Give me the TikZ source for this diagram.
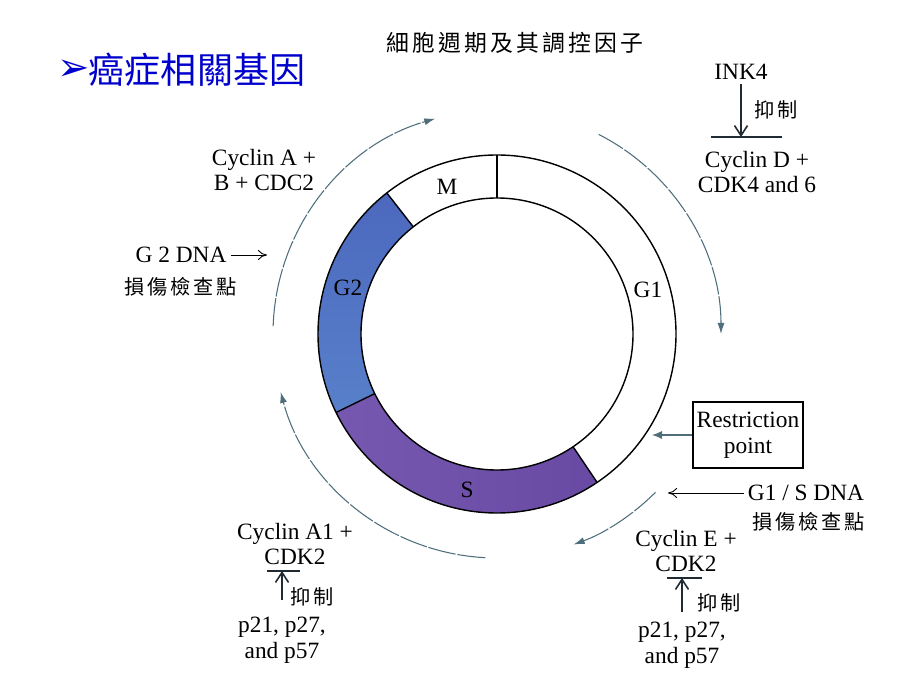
\documentclass[tikz,border=0pt]{standalone}
\usepackage{fontspec}
\setmainfont{Liberation Serif}
\newfontfamily\cjk{Noto Sans CJK TC}
\newfontfamily\cjkwide[LetterSpace=14]{Noto Sans CJK TC}
\newfontfamily\dingfont{DejaVu Sans}
\usetikzlibrary{arrows.meta}
\definecolor{tink}{HTML}{1F2A33}
\definecolor{tarc}{HTML}{4E6E7C}
\definecolor{tblue}{RGB}{0,0,204}
\definecolor{gtwo}{RGB}{76,104,190}
\definecolor{gtwolight}{RGB}{128,162,216}
\definecolor{gtwolow}{RGB}{88,128,202}
\definecolor{sphase}{RGB}{118,88,176}
\definecolor{sphasedark}{RGB}{104,74,164}

\begin{document}
\begin{tikzpicture}[x=0.02cm,y=0.02cm,
  lbl/.style={font=\fontsize{13.3}{14.7}\selectfont,align=center,inner sep=0pt},
  zh/.style={font=\cjkwide\fontsize{11.5}{14}\selectfont,inner sep=0pt},
  cyc/.style={draw=tarc,line width=0.6pt,dash pattern=on 16pt off 1pt,
              -{Latex[length=2.2mm,width=1.4mm]}},
  inh/.style={draw=tink,line width=0.9pt,-{Straight Barb[length=2mm,width=2.6mm]}},
  tbar/.style={draw=tink,line width=0.9pt},
  chk/.style={line width=0.5pt,-{To[length=1.8mm,width=2mm]}},
  ring/.style={draw=black,line width=0.8pt}]
\useasboundingbox[fill=white] (0,0) rectangle (920,690);

% headings
\node[font=\cjkwide\fontsize{13}{15}\selectfont] (title) at (515,647) {細胞週期及其調控因子};
\node[font=\dingfont\fontsize{22}{22}\selectfont,text=tblue] (bullet) at (74,620) {➢};
\node[font=\cjk\fontsize{20.5}{22}\selectfont,text=tblue] (head) at (197,620) {癌症相關基因};

% cell cycle ring
\begin{scope}[shift={(497,356)}]
\shade[top color=gtwo,middle color=gtwolight,bottom color=gtwolow]
  (128:179) arc[start angle=128,end angle=206,radius=179]
  -- (206:136) arc[start angle=206,end angle=128,radius=136] -- cycle;
\shade[left color=sphase,right color=sphasedark]
  (206:179) arc[start angle=206,end angle=304,radius=179]
  -- (304:136) arc[start angle=304,end angle=206,radius=136] -- cycle;
\draw[ring] (0,0) circle[radius=179];
\draw[ring] (0,0) circle[radius=136];
\foreach \a in {90,128,206,304}
  \draw[ring] (\a:136) -- (\a:179);
% outer arrows
\draw[cyc] (178:224) arc[start angle=178,end angle=106,radius=224];
\draw[cyc] (63:224) arc[start angle=63,end angle=0,radius=224];
\draw[cyc] (-45:224) arc[start angle=-45,end angle=-70,radius=224];
\draw[cyc] (267:224) arc[start angle=267,end angle=195,radius=224];
\end{scope}
\node[lbl] (ph M) at (447,503) {M};
\node[lbl] (ph G2) at (348,402) {G2};
\node[lbl] (ph S) at (467,200) {S};
\node[lbl] (ph G1) at (648,400) {G1};

% INK4 -> Cyclin D
\node[lbl] (ink) at (741,618) {INK4};
\coordinate (barD) at (746,553);
\draw[tbar] ([shift={(-35,0)}]barD) -- ([shift={(36,0)}]barD);
\draw[inh] (ink.south) ++(0,-4) coordinate (inkT) -- (inkT |- barD);
\node[zh] (inhD) at (776,580) {抑制};
\node[lbl] (cycD) at (757,518) {Cyclin D +\\CDK4 and 6};

% Cyclin A + B
\node[lbl] (cycA) at (264,520) {Cyclin A +\\B + CDC2};

% G2 checkpoint
\node[lbl] (g2dna) at (181,435) {G 2 DNA};
\coordinate (g2tip) at (267,435);
\draw[chk] ([shift={(4,0)}]g2dna.east) -- (g2tip);
\node[zh] (g2chk) at (181,403) {損傷檢查點};

% restriction point
\node[lbl,draw=black,line width=0.6pt,minimum width=2.2cm,minimum height=1.32cm] (rp) at (748,255) {Restriction\\point};
\coordinate (rptip) at (652,255);
\draw[draw=tarc,line width=0.6pt,-{Latex[length=2mm,width=1.6mm]}] (rp.west) -- (rptip);

% G1/S checkpoint
\node[lbl] (g1s) at (806,197) {G1 / S DNA};
\coordinate (g1stip) at (668,197);
\draw[chk] ([shift={(-4,0)}]g1s.west) -- (g1stip);
\node[zh] (g1schk) at (809,168) {損傷檢查點};

% Cyclin E + CDK2
\node[lbl] (cycE) at (686,139) {Cyclin E +\\CDK2};
\coordinate (barE) at (684,112);
\draw[tbar] ([shift={(-17,0)}]barE) -- ([shift={(18,0)}]barE);
\coordinate (tailE) at (682,78);
\draw[inh] (tailE) -- (tailE |- barE);
\node[zh] (inhE) at (719,87) {抑制};
\node[lbl] (pE) at (682,45) {p21, p27,\\and p57};

% Cyclin A1 + CDK2
\node[lbl] (cycA1) at (295,146) {Cyclin A1 +\\CDK2};
\coordinate (barA1) at (283,119);
\draw[tbar] ([shift={(-16,0)}]barA1) -- ([shift={(17,0)}]barA1);
\coordinate (tailA1) at (282,90);
\draw[inh] (tailA1) -- (tailA1 |- barA1);
\node[zh] (inhA1) at (312,93) {抑制};
\node[lbl] (pA1) at (282,50) {p21, p27,\\and p57};
\end{tikzpicture}
\end{document}
